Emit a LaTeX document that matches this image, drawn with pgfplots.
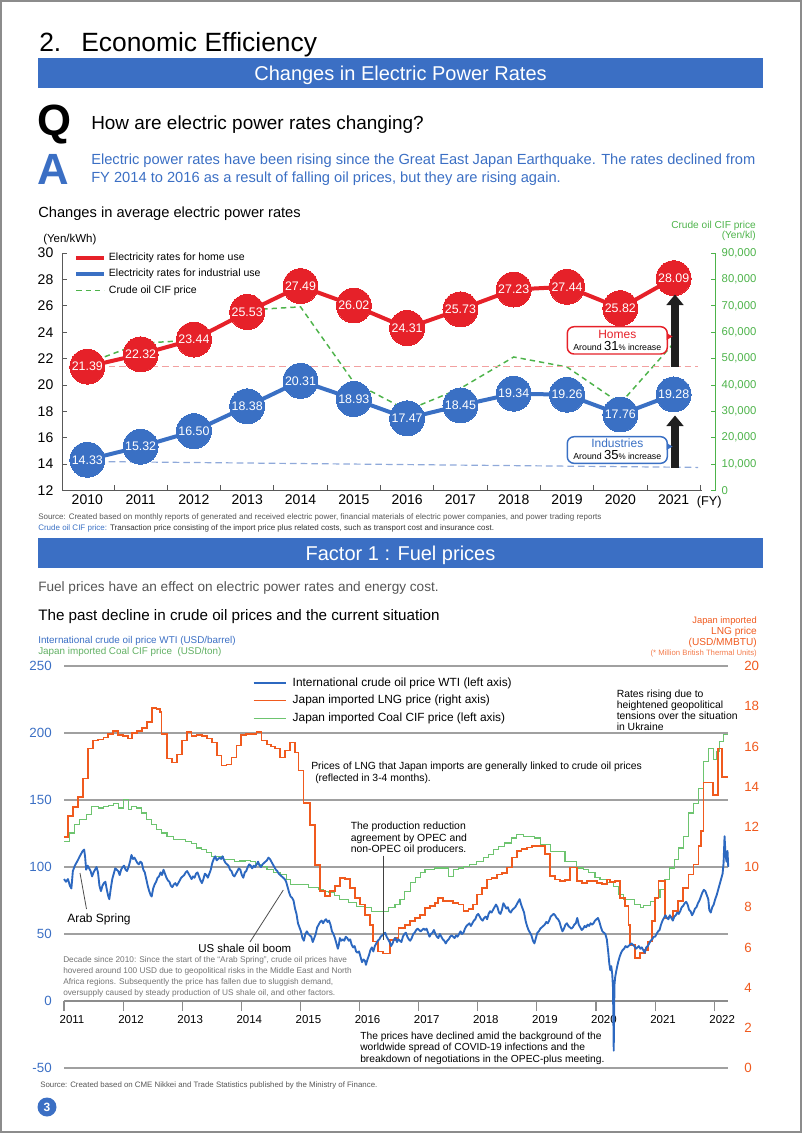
\documentclass[border=0pt]{standalone}
\usepackage{fontspec}
\setmainfont{Liberation Sans}
\usepackage{pgfplots}
\usepackage{pgfplotstable}
\pgfplotsset{compat=1.18}
\newcommand{\fs}[1]{\fontsize{#1}{#1}\selectfont}
\definecolor{hdrblue}{HTML}{3B6FC4}
\definecolor{cred}{HTML}{E62129}
\definecolor{cblue}{HTML}{3A70C4}
\definecolor{cgreen}{HTML}{4DB34A}
\definecolor{refred}{HTML}{F2A0A0}
\definecolor{refblue}{HTML}{8FA9DA}
\definecolor{wti}{HTML}{2C68C0}
\definecolor{lng}{HTML}{F05A1E}
\definecolor{coal}{HTML}{6DC46F}
\definecolor{gridg}{HTML}{A0A0A0}
\definecolor{txtgray}{HTML}{555555}

% LNG price (USD/MMBTU), x = months since Jan 2011
\pgfplotstableread[row sep=\\]{m v\\
0 11.5\\0.87 12.55\\1.89 12.97\\2.9 13.47\\3.92 14.4\\4.93 15.9\\5.95 16.3\\6.96 16.35\\8 16.45\\9 16.6\\10 16.77\\11 16.55\\12 16.5\\13 16.4\\13.75 16.65\\14.8 16.75\\15.8 16.9\\16.8 17.2\\17.8 17.9\\18.8 17.85\\19.5 17.7\\19.8 16.6\\20.85 15.4\\21.9 15.2\\22.9 15.6\\23.9 16.3\\24.9 16.7\\25.9 16.5\\26.9 16.55\\28 16.5\\29 16.4\\30 16.2\\31 15.55\\32 15.05\\33 15.1\\34 15.45\\35 16.05\\36 16.55\\37 16.6\\37.8 16.6\\39.1 16.7\\40.1 16.3\\41.2 16.1\\42 16.0\\42.8 15.9\\43.9 15.45\\44.9 15.8\\45.9 16.2\\46.9 15.7\\47.6 14.8\\48.6 13.2\\49.95 12.1\\51 10.1\\52 8.8\\53 8.55\\54 8.8\\55 9.05\\56 9.47\\57.1 9.4\\58.1 8.97\\59.1 8.47\\60.1 8.13\\61.1 7.63\\62.1 7.13\\62.8 6.3\\63.8 5.8\\64.8 5.7\\66.2 6.38\\67.2 6.47\\67.9 6.97\\69.2 7.13\\70.3 7.3\\71.3 7.47\\72.3 7.63\\73.3 7.97\\74.3 8.05\\75.3 8.2\\76 8.47\\77 8.3\\79 8.2\\80.1 8.13\\81.1 7.8\\82.1 7.9\\83.1 8.13\\83.8 8.63\\84.8 8.97\\85.8 9.38\\86.8 9.47\\87.9 9.63\\88.9 9.72\\89.9 9.97\\90.9 10.47\\91.9 10.8\\92.9 10.9\\94 10.97\\95 11.05\\96.7 11.05\\97.7 10.63\\98.7 9.55\\99.7 9.38\\100.7 9.3\\101.7 9.35\\102.7 9.97\\104.1 9.3\\105.1 9.22\\106.1 9.3\\107.1 9.3\\108.2 9.2\\109.2 9.17\\110.2 9.38\\110.9 9.25\\111.9 9.3\\112.9 8.47\\113.9 8.05\\114.6 7.13\\114.9 6.13\\115.9 5.47\\117 5.72\\118 5.88\\118.6 6.3\\119.3 7.3\\120 8.47\\120.7 9.3\\122 7.47\\122.7 7.5\\123.7 7.8\\124.7 8.3\\125.7 8.97\\126.8 9.63\\127.8 10.13\\128.8 11.05\\129.3 11.8\\129.8 14.2\\131.8 13.6\\132.8 15.9\\133.6 14.47\\134.8 14.47\\
}\lngdata

% Japan imported coal CIF price (USD/ton)
\pgfplotstableread[row sep=\\]{m v\\
0 119.2\\1.2 125.4\\2.2 131.6\\3.2 135.3\\4.6 139\\5.6 145.2\\7 144\\8 145\\9 145.7\\10 147.2\\11 144\\12 150.2\\13.1 142.8\\13.7 145.2\\14.8 144\\15.8 140.3\\16.8 135.3\\17.8 131.6\\18.8 127.9\\19.8 125.4\\20.9 122.9\\22.2 120.4\\24.6 119.2\\25.9 117.4\\26.9 114.2\\28 113\\29 111\\30 108\\32.3 105.5\\34.7 103.8\\35.7 104.5\\36.8 105\\37.8 104\\38.8 101.8\\39.8 100.5\\41.2 98.1\\42.5 95.6\\43.9 94.4\\45.2 90.6\\45.9 86.9\\48.6 86.9\\49.6 84.4\\51.6 83.2\\52.6 81.9\\53.7 80.7\\55 78.7\\56 75.7\\57.7 73.3\\59.4 70.7\\61.1 69.5\\62.5 67\\65.9 69.5\\67.2 72\\68.2 75.7\\69.2 81.9\\70.3 88.2\\71.3 91.9\\72.3 95.6\\73.3 98.1\\75.3 99.3\\78 93.1\\79 98.1\\80.1 99.3\\81.1 100.5\\82.4 101.8\\83.8 104.3\\85.1 106.8\\86.2 109.2\\87.2 113\\88.2 115.4\\89.5 117.9\\90.9 121.7\\91.9 124.1\\93.3 123\\94.3 122.5\\95.6 121.7\\96.7 116.7\\98.7 111.7\\101.7 104.3\\104.1 99.3\\105.4 98.1\\106.5 95.6\\107.8 91.9\\108.8 90.5\\110.2 88.6\\111.5 85.6\\112.5 79.5\\113.6 75.7\\115.9 72\\117 69.5\\117.6 71\\119 74.5\\120 77\\121 83.2\\122 90.6\\123 99.3\\124 105.5\\124.7 114.2\\125.7 122.9\\126.8 140.3\\127.8 147.7\\128.8 158.9\\129.8 178.7\\130.8 188.7\\131.8 180\\132.5 186.2\\133.1 193.6\\133.9 198.6\\134.8 198.6\\
}\coaldata

% International crude oil price WTI (USD/barrel)
\pgfplotstableread[row sep=\\]{m v\\
0 91\\0.4 89\\0.8 91\\1.2 86\\1.5 84\\1.8 97\\2.2 101\\2.5 103\\2.8 105\\3.2 108\\3.5 110\\3.8 112\\4.1 113\\4.3 107\\4.5 98\\4.8 101\\5.1 99\\5.4 97\\5.7 93\\6.0 96\\6.3 98\\6.6 100\\6.9 96\\7.2 86\\7.5 82\\7.8 86\\8.1 88\\8.4 89\\8.7 83\\9.0 78\\9.2 76\\9.5 84\\9.8 91\\10.1 95\\10.4 99\\10.7 98\\11.0 97\\11.3 94\\11.6 98\\11.9 100\\
12.2 101\\12.5 98\\12.8 97\\13.1 100\\13.4 104\\13.7 109\\14.0 106\\14.3 107\\14.6 105\\14.9 103\\15.2 102\\15.5 104\\15.8 103\\16.1 98\\16.4 96\\16.7 91\\17.0 86\\17.3 82\\17.6 79\\17.8 78\\18.1 84\\18.4 87\\18.7 89\\19.0 92\\19.3 93\\19.6 96\\19.9 94\\20.2 98\\20.5 95\\20.8 92\\21.1 90\\21.4 89\\21.7 86\\22.0 85\\22.3 87\\22.6 88\\22.9 86\\23.2 88\\23.5 90\\23.8 92\\
24.1 93\\24.4 94\\24.7 96\\25.0 97\\25.3 95\\25.6 93\\25.9 91\\26.2 93\\26.5 92\\26.8 95\\27.1 96\\27.4 93\\27.7 90\\28.0 88\\28.3 91\\28.6 95\\28.9 94\\29.2 92\\29.5 95\\29.8 98\\30.1 103\\30.4 106\\30.7 108\\31.0 105\\31.3 106\\31.6 107\\31.9 106\\32.2 108\\32.5 105\\32.8 103\\33.1 102\\33.4 101\\33.7 98\\34.0 97\\34.3 94\\34.6 93\\34.9 95\\35.2 97\\35.5 99\\35.8 98\\
36.1 94\\36.4 92\\36.7 96\\37.0 97\\37.3 100\\37.6 102\\37.9 101\\38.2 99\\38.5 101\\38.8 100\\39.1 102\\39.4 104\\39.7 101\\40.0 100\\40.3 102\\40.6 103\\40.9 104\\41.2 105\\41.5 107\\41.8 106\\42.1 104\\42.4 102\\42.7 100\\43.0 98\\43.3 97\\43.6 95\\43.9 94\\44.2 93\\44.5 92\\44.8 91\\45.1 89\\45.4 85\\45.7 81\\46.0 78\\46.3 77\\46.6 75\\46.9 69\\47.2 65\\47.5 58\\47.8 55\\
48.1 52\\48.4 47\\48.7 45\\49.0 50\\49.3 52\\49.6 50\\49.9 49\\50.2 48\\50.5 44\\50.8 47\\51.1 50\\51.4 55\\51.7 57\\52.0 59\\52.3 60\\52.6 58\\52.9 60\\53.2 61\\53.5 59\\53.8 60\\54.1 57\\54.4 52\\54.7 50\\55.0 47\\55.3 43\\55.6 39\\55.8 42\\56.0 47\\56.3 45\\56.6 46\\56.9 45\\57.2 48\\57.5 47\\57.8 45\\58.1 46\\58.4 42\\58.7 40\\59.0 41\\59.3 37\\59.6 36\\59.9 37\\
60.2 33\\60.5 29\\60.8 31\\61.1 30\\61.3 27\\61.6 31\\61.9 34\\62.2 38\\62.5 40\\62.8 37\\63.1 41\\63.4 43\\63.7 45\\64.0 46\\64.3 48\\64.6 49\\64.9 50\\65.2 51\\65.5 48\\65.8 46\\66.1 44\\66.4 41\\66.7 43\\67.0 46\\67.3 47\\67.6 44\\67.9 46\\68.2 45\\68.5 44\\68.8 48\\69.1 50\\69.4 51\\69.7 48\\70.0 46\\70.3 45\\70.6 47\\70.9 50\\71.2 51\\71.5 53\\71.8 54\\
72.1 53\\72.4 52\\72.7 53\\73.0 54\\73.3 53\\73.6 54\\73.9 51\\74.2 48\\74.5 50\\74.8 51\\75.1 53\\75.4 50\\75.7 48\\76.0 47\\76.3 50\\76.6 48\\76.9 46\\77.2 45\\77.5 43\\77.8 45\\78.1 46\\78.4 48\\78.7 49\\79.0 48\\79.3 47\\79.6 49\\79.9 48\\80.2 50\\80.5 52\\80.8 50\\81.1 51\\81.4 54\\81.7 56\\82.0 57\\82.3 58\\82.6 56\\82.9 58\\83.2 60\\83.5 61\\83.8 64\\
84.1 65\\84.4 63\\84.7 61\\85.0 60\\85.3 62\\85.6 63\\85.9 61\\86.2 65\\86.5 67\\86.8 66\\87.1 68\\87.4 70\\87.7 72\\88.0 70\\88.3 66\\88.6 65\\88.9 68\\89.2 73\\89.5 71\\89.8 69\\90.1 70\\90.4 67\\90.7 66\\91.0 68\\91.3 69\\91.6 70\\91.9 72\\92.2 74\\92.5 76\\92.8 72\\93.1 69\\93.4 66\\93.7 60\\94.0 56\\94.3 53\\94.6 51\\94.9 49\\95.2 45\\95.5 43\\95.8 47\\
96.1 51\\96.4 52\\96.7 54\\97.0 55\\97.3 56\\97.6 57\\97.9 59\\98.2 58\\98.5 60\\98.8 63\\99.1 64\\99.4 65\\99.7 64\\100.0 62\\100.3 61\\100.6 59\\100.9 55\\101.2 52\\101.5 54\\101.8 57\\102.1 58\\102.4 56\\102.7 55\\103.0 54\\103.3 55\\103.6 57\\103.9 58\\104.2 62\\104.5 57\\104.8 55\\105.1 53\\105.4 54\\105.7 56\\106.0 55\\106.3 57\\106.6 56\\106.9 58\\107.2 57\\107.5 58\\107.8 60\\
108.1 61\\108.4 62\\108.7 59\\109.0 55\\109.3 52\\109.6 51\\109.9 50\\110.2 46\\110.5 36\\110.7 28\\110.9 23\\111.1 26\\111.3 20\\111.45 10\\111.6 -37\\111.75 12\\111.9 18\\112.2 24\\112.5 29\\112.8 33\\113.1 36\\113.4 38\\113.7 39\\114.0 41\\114.3 40\\114.6 41\\114.9 42\\115.2 43\\115.5 42\\115.8 41\\116.1 39\\116.4 40\\116.7 41\\117.0 39\\117.3 40\\117.6 38\\117.9 36\\118.2 40\\118.5 41\\118.8 43\\119.1 45\\119.4 46\\119.7 48\\
120.0 48\\120.3 50\\120.6 52\\120.9 53\\121.2 57\\121.5 60\\121.8 62\\122.1 64\\122.4 62\\122.7 61\\123.0 64\\123.3 62\\123.6 60\\123.9 63\\124.2 64\\124.5 66\\124.8 65\\125.1 67\\125.4 70\\125.7 71\\126.0 73\\126.3 74\\126.6 72\\126.9 68\\127.2 67\\127.5 64\\127.8 66\\128.1 69\\128.4 70\\128.7 73\\129.0 75\\129.3 78\\129.6 81\\129.9 83\\130.2 82\\130.5 79\\130.8 76\\131.0 68\\131.3 66\\131.6 70\\131.9 72\\
132.2 76\\132.5 79\\132.8 83\\133.1 87\\133.4 91\\133.7 95\\133.9 103\\134.1 123\\134.3 109\\134.5 104\\134.7 112\\134.85 100\\
}\wtidata

\begin{document}
\begin{tikzpicture}
\path[use as bounding box] (0pt,0pt) rectangle (601.5pt,-849.75pt);

% ================= TOP CHART =================
% crude oil CIF price, right axis
\begin{axis}[
  at={(46.5pt,-367.875pt)}, anchor=south west,
  scale only axis, width=489.75pt, height=178.125pt,
  xmin=-0.475, xmax=11.776, ymin=0, ymax=90000,
  axis x line=none, axis y line*=right,
  scaled y ticks=false,
  y axis line style={cgreen, line width=0.75pt},
  ytick={0,10000,20000,30000,40000,50000,60000,70000,80000,90000},
  yticklabels={0,{10,000},{20,000},{30,000},{40,000},{50,000},{60,000},{70,000},{80,000},{90,000}},
  ytick style={cgreen, line width=0.6pt}, tick align=inside, major tick length=3pt,
  yticklabel style={text=cgreen, font=\fs{8.5pt}, xshift=1.5pt},
  clip=false,
]
\addplot[cgreen, line width=1.1pt, dash pattern=on 4pt off 3pt] coordinates {
(0,48200) (1,55800) (2,57000) (3,68400) (4,69600) (5,41000) (6,30400) (7,38700) (8,50600) (9,46800) (10,33000) (11,55800)};
\end{axis}

% electricity rates, left axis
\begin{axis}[
  at={(46.5pt,-367.875pt)}, anchor=south west,
  scale only axis, width=479.8pt, height=178.125pt,
  xmin=-0.475, xmax=11.527, ymin=12, ymax=30,
  axis x line*=bottom, axis y line*=left,
  axis line style={black!65, line width=0.75pt},
  xtick={0,1,2,3,4,5,6,7,8,9,10,11},
  xticklabels={2010,2011,2012,2013,2014,2015,2016,2017,2018,2019,2020,2021},
  major x tick style={draw=none},
  minor xtick={0.5,1.5,2.5,3.5,4.5,5.5,6.5,7.5,8.5,9.5,10.5,11.5},
  minor x tick style={black!65, line width=0.6pt},
  minor tick length=4pt,
  ytick={12,14,16,18,20,22,24,26,28,30},
  yticklabels={12,14,16,18,20,22,24,26,28,30},
  ytick style={black!65, line width=0.6pt},
  major tick length=4pt, tick align=inside,
  xticklabel style={font=\fs{10.5pt}},
  yticklabel style={font=\fs{10.5pt}, xshift=-3pt},
  clip=false,
  legend image code/.code={\draw[#1] (0pt,0pt) -- (21pt,0pt);},
  legend cell align=left,
  legend style={at={(0,1)}, anchor=north west, xshift=9pt, yshift=2.3pt, draw=none, fill=none,
    inner xsep=0pt, inner ysep=0pt, font=\fs{7.9pt}, row sep=1pt,
    nodes={inner sep=2pt, text depth=0.15em}},
]
\addlegendimage{cred, line width=3pt}
\addlegendentry{Electricity rates for home use}
\addlegendimage{cblue, line width=3pt}
\addlegendentry{Electricity rates for industrial use}
\addlegendimage{cgreen, line width=1.1pt, dash pattern=on 4pt off 3pt}
\addlegendentry{Crude oil CIF price}
\addplot[refred, line width=0.9pt, dash pattern=on 5pt off 3pt, forget plot] coordinates {(0,21.39) (11.46,21.39)};
\addplot[refblue, line width=0.9pt, dash pattern=on 5pt off 3pt, forget plot] coordinates {(0,14.2) (11.46,13.75)};
\addplot[cred, line width=3pt, mark=*, mark size=13.1pt,
  mark options={fill=cred, draw=cred, line width=0pt},
  nodes near coords, point meta=explicit symbolic,
  every node near coord/.append style={anchor=center, text=white, font=\fs{9.3pt}},
  forget plot] coordinates {
(0,21.39)[21.39] (1,22.32)[22.32] (2,23.44)[23.44] (3,25.53)[25.53] (4,27.49)[27.49] (5,26.02)[26.02]
(6,24.31)[24.31] (7,25.73)[25.73] (8,27.23)[27.23] (9,27.44)[27.44] (10,25.82)[25.82] (11,28.09)[28.09]};
\addplot[cblue, line width=3pt, mark=*, mark size=13.1pt,
  mark options={fill=cblue, draw=cblue, line width=0pt},
  nodes near coords, point meta=explicit symbolic,
  every node near coord/.append style={anchor=center, text=white, font=\fs{9.3pt}},
  forget plot] coordinates {
(0,14.33)[14.33] (1,15.32)[15.32] (2,16.50)[16.50] (3,18.38)[18.38] (4,20.31)[20.31] (5,18.93)[18.93]
(6,17.47)[17.47] (7,18.45)[18.45] (8,19.34)[19.34] (9,19.26)[19.26] (10,17.76)[17.76] (11,19.28)[19.28]};
\end{axis}

% ================= BOTTOM CHART =================
% left axis: grid, ticks, coal
\begin{axis}[
  at={(48pt,-801pt)}, anchor=south west,
  scale only axis, width=498pt, height=301.5pt,
  xmin=0, xmax=134.8, ymin=-50, ymax=250, enlargelimits=false,
  axis x line=middle, axis y line=left,
  every inner x axis line/.append style={-},
  x axis line style={-, black!45, line width=1pt},
  y axis line style={draw=none},
  hide obscured x ticks=false, hide obscured y ticks=false,
  xtick={0,12,24,36,48,60,72,84,96,108,120,132},
  xticklabels={2011,2012,2013,2014,2015,2016,2017,2018,2019,2020,2021,2022},
  x tick style={black!45, line width=0.8pt},
  tick align=outside, major tick length=7.5pt,
  xticklabel style={font=\fs{8.6pt}, xshift=6pt},
  ytick={-50,0,50,100,150,200,250},
  yticklabels={-50,0,50,100,150,200,250},
  y tick style={draw=none},
  yticklabel style={text=hdrblue, font=\fs{10pt}, xshift=1.8pt},
  ymajorgrids, grid style={gridg, line width=0.8pt},
  clip=false,
  legend image code/.code={\draw[#1] (0pt,0pt) -- (24.2pt,0pt);},
  legend cell align=left,
  legend style={at={(0,1)}, anchor=north west, xshift=141.25pt, yshift=-6.6pt, draw=none, fill=none,
    inner xsep=0pt, inner ysep=0pt, font=\fs{8.9pt}, row sep=1.2pt, column sep=2.5pt,
    nodes={inner sep=2pt, text depth=0.15em}},
]
\addlegendimage{wti, line width=1.4pt}
\addlegendentry{International crude oil price WTI (left axis)}
\addlegendimage{lng, line width=1.3pt}
\addlegendentry{Japan imported LNG price (right axis)}
\addplot[coal, line width=0.85pt, const plot mark left] table[x=m, y=v] {\coaldata};
\addlegendentry{Japan imported Coal CIF price (left axis)}
\end{axis}

% right axis: LNG
\begin{axis}[
  at={(48pt,-801pt)}, anchor=south west,
  scale only axis, width=498pt, height=301.5pt,
  xmin=0, xmax=134.8, ymin=0, ymax=20,
  axis x line=none, axis y line*=right,
  y axis line style={draw=none},
  ytick={0,2,4,6,8,10,12,14,16,18,20},
  yticklabels={0,2,4,6,8,10,12,14,16,18,20},
  y tick style={draw=none},
  yticklabel style={text=lng, font=\fs{10pt}, xshift=8.7pt},
  clip=false,
]
\addplot[lng, line width=1.3pt, const plot mark left] table[x=m, y=v] {\lngdata};
\end{axis}

% WTI on left scale
\begin{axis}[
  at={(48pt,-801pt)}, anchor=south west,
  scale only axis, width=498pt, height=301.5pt,
  xmin=0, xmax=134.8, ymin=-50, ymax=250, hide axis, clip=false,
]
\addplot[wti, line width=1.4pt, line join=round] table[x=m, y=v] {\wtidata};
\end{axis}

% ================= TEXT AND ANNOTATIONS =================
\begin{scope}[x=0.75pt, y=-0.75pt]
\draw[black!45, line width=1.1pt] (0.8,0.8) rectangle (801.2,1132.2);

\node[anchor=base west, inner sep=0pt, font=\fs{19.8pt}] at (39,51) {2.\hspace{15pt}Economic Efficiency};
\fill[hdrblue] (38,58) rectangle (763,88);
\node[anchor=base, inner sep=0pt, text=white, font=\fs{15pt}] at (400.5,80.5) {Changes in Electric Power Rates};

\node[anchor=base west, inner sep=0pt, font=\bfseries\fs{32.8pt}] at (37,135) {Q};
\node[anchor=base west, inner sep=0pt, font=\fs{14.2pt}] at (91,129.5) {How are electric power rates changing?};
\node[anchor=base west, inner sep=0pt, text=hdrblue, font=\bfseries\fs{32.8pt}] at (37,184) {A};
\node[anchor=base west, inner sep=0pt, text=hdrblue, font=\fs{11pt}] at (91,164.5) {Electric power rates have been rising since the Great East Japan Earthquake. The rates declined from};
\node[anchor=base west, inner sep=0pt, text=hdrblue, font=\fs{11pt}] at (91,182.5) {FY 2014 to 2016 as a result of falling oil prices, but they are rising again.};

\node[anchor=base west, inner sep=0pt, font=\fs{11pt}] at (38,217) {Changes in average electric power rates};
\node[anchor=base west, inner sep=0pt, font=\fs{8.6pt}] at (43,242) {(Yen/kWh)};
\node[anchor=base east, inner sep=0pt, text=cgreen, font=\fs{7.6pt}] at (756,228) {Crude oil CIF price};
\node[anchor=base east, inner sep=0pt, text=cgreen, font=\fs{7.6pt}] at (756,238.5) {(Yen/kl)};
\node[anchor=base west, inner sep=0pt, font=\fs{9.6pt}] at (696.5,505.5) {(FY)};

% Homes box and arrow
\fill[black!88] (671,366.7) rectangle (679.3,304);
\fill[black!88] (666.3,305) -- (683.7,305) -- (675,294.5) -- cycle;
\draw[cred, line width=1.1pt, fill=white, rounded corners=5pt] (567.3,326.7) rectangle (667.3,354);
\fill[cred] (666.5,333) -- (672.5,336.5) -- (666.5,340) -- cycle;
\node[inner sep=0pt, text=cred, font=\fs{9pt}] at (617.3,334.5) {Homes};
\node[inner sep=0pt, anchor=base] at (617.3,350.5) {\fs{6.6pt}Around \fs{9.8pt}31\fs{6pt}\% \fs{6.6pt}increase};
% Industries box and arrow
\fill[black!88] (671,468.3) rectangle (679.3,425);
\fill[black!88] (666.3,426) -- (683.7,426) -- (675,415.5) -- cycle;
\draw[cblue, line width=1.1pt, fill=white, rounded corners=5pt] (567.3,436.7) rectangle (667.3,463.3);
\fill[cblue] (666.5,443) -- (672.5,446.5) -- (666.5,450) -- cycle;
\node[inner sep=0pt, text=cblue, font=\fs{9pt}] at (617.3,443.3) {Industries};
\node[inner sep=0pt, anchor=base] at (617.3,459.5) {\fs{6.6pt}Around \fs{9.8pt}35\fs{6pt}\% \fs{6.6pt}increase};

\node[anchor=base west, inner sep=0pt, text=txtgray, font=\fs{6pt}] at (38,519) {Source: Created based on monthly reports of generated and received electric power, financial materials of electric power companies, and power trading reports};
\node[anchor=base west, inner sep=0pt, font=\fs{6pt}] at (38,530) {\textcolor{cblue}{Crude oil CIF price:} \textcolor{black!80}{Transaction price consisting of the import price plus related costs, such as transport cost and insurance cost.}};

\fill[hdrblue] (38,538) rectangle (763,568);
\node[anchor=base, inner sep=0pt, text=white, font=\fs{15pt}] at (400.5,560.5) {Factor 1 : Fuel prices};
\node[anchor=base west, inner sep=0pt, text=txtgray, font=\fs{10.2pt}] at (38,591.5) {Fuel prices have an effect on electric power rates and energy cost.};
\node[anchor=base west, inner sep=0pt, font=\fs{11.4pt}] at (38,620) {The past decline in crude oil prices and the current situation};
\node[anchor=base west, inner sep=0pt, text=hdrblue, font=\fs{7.4pt}] at (38,643.5) {International crude oil price WTI (USD/barrel)};
\node[anchor=base west, inner sep=0pt, text=coal!90!black, font=\fs{7.4pt}] at (38,654.5) {Japan imported Coal CIF price\ \ (USD/ton)};
\node[anchor=base east, inner sep=0pt, text=lng, font=\fs{7pt}] at (757,623.5) {Japan imported};
\node[anchor=base east, inner sep=0pt, text=lng, font=\fs{7.6pt}] at (757,634.5) {LNG price};
\node[anchor=base east, inner sep=0pt, text=lng, font=\fs{7.6pt}] at (757,645.5) {(USD/MMBTU)};
\node[anchor=base east, inner sep=0pt, text=lng!80, font=\fs{5.8pt}] at (757,655) {(* Million British Thermal Units)};

% annotations in the fuel price chart
\node[anchor=base west, inner sep=0pt, font=\fs{7.8pt}] at (311,769.5) {Prices of LNG that Japan imports are generally linked to crude oil prices};
\node[anchor=base west, inner sep=0pt, font=\fs{7.8pt}] at (315,781) {(reflected in 3-4 months).};
\node[anchor=base west, inner sep=0pt, font=\fs{7.8pt}] at (350.5,829.5) {The production reduction};
\node[anchor=base west, inner sep=0pt, font=\fs{7.8pt}] at (350.5,841) {agreement by OPEC and};
\node[anchor=base west, inner sep=0pt, font=\fs{7.8pt}] at (350.5,852.5) {non-OPEC oil producers.};
\draw[black!75, line width=0.8pt] (383.3,855.5) -- (383.3,940);
\node[anchor=base west, inner sep=0pt, font=\fs{7.8pt}] at (616.5,697) {Rates rising due to};
\node[anchor=base west, inner sep=0pt, font=\fs{7.8pt}] at (616.5,708.3) {heightened geopolitical};
\node[anchor=base west, inner sep=0pt, font=\fs{7.8pt}] at (616.5,719.6) {tensions over the situation};
\node[anchor=base west, inner sep=0pt, font=\fs{7.8pt}] at (616.5,730.9) {in Ukraine};
\draw[black!70, line width=0.6pt] (80,873) -- (86.5,909);
\node[anchor=base west, inner sep=0pt, font=\fs{9pt}] at (67,922.5) {Arab Spring};
\draw[black!70, line width=0.6pt] (283.3,890) -- (250,942);
\node[anchor=base west, inner sep=0pt, font=\fs{8.6pt}] at (198,952) {US shale oil boom};
\node[anchor=base west, inner sep=0pt, text=black!55, font=\fs{6.2pt}] at (63,962.5) {Decade since 2010: Since the start of the ``Arab Spring'', crude oil prices have};
\node[anchor=base west, inner sep=0pt, text=black!55, font=\fs{6.2pt}] at (63,973.5) {hovered around 100 USD due to geopolitical risks in the Middle East and North};
\node[anchor=base west, inner sep=0pt, text=black!55, font=\fs{6.2pt}] at (63,984.5) {Africa regions. Subsequently the price has fallen due to sluggish demand,};
\node[anchor=base west, inner sep=0pt, text=black!55, font=\fs{6.2pt}] at (63,995.5) {oversupply caused by steady production of US shale oil, and other factors.};
\node[anchor=base west, inner sep=0pt, font=\fs{7.7pt}] at (360,1039) {The prices have declined amid the background of the};
\node[anchor=base west, inner sep=0pt, font=\fs{7.7pt}] at (360,1050.7) {worldwide spread of COVID-19 infections and the};
\node[anchor=base west, inner sep=0pt, font=\fs{7.7pt}] at (360,1062.4) {breakdown of negotiations in the OPEC-plus meeting.};

\node[anchor=base west, inner sep=0pt, text=txtgray, font=\fs{5.9pt}] at (40,1087.5) {Source: Created based on CME Nikkei and Trade Statistics published by the Ministry of Finance.};
\fill[hdrblue] (47,1107) circle (9.5);
\node[inner sep=0pt, text=white, font=\bfseries\fs{9pt}] at (47,1107.3) {3};
\end{scope}
\end{tikzpicture}
\end{document}
